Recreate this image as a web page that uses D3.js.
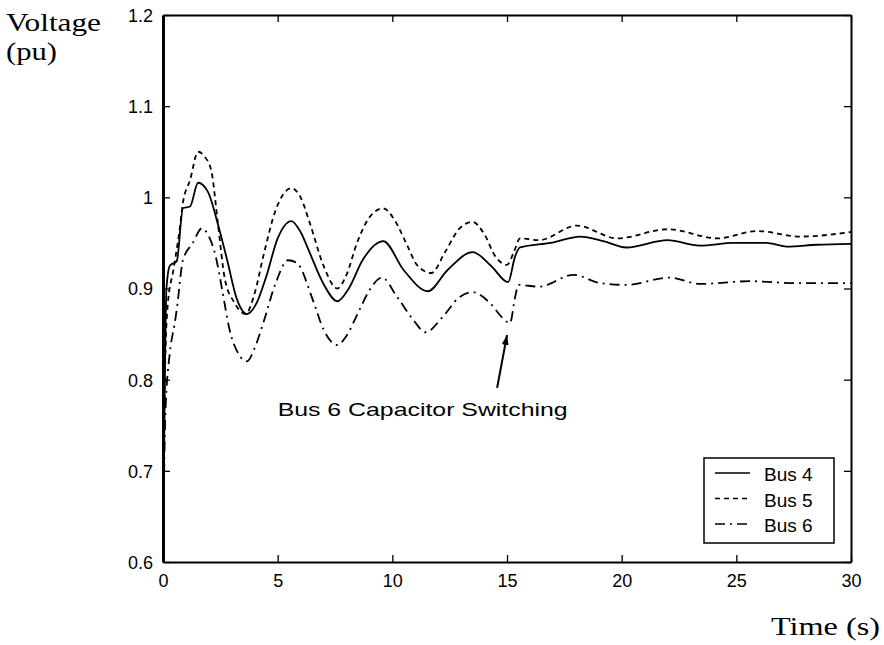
<!DOCTYPE html>
<html>
<head>
<meta charset="utf-8">
<script src="https://cdn.jsdelivr.net/npm/d3@7"></script>
<style>
  html, body { margin: 0; padding: 0; background: #fff; }
  svg { display: block; }
  .tick-label { font-family: "Liberation Sans", Arial, sans-serif; font-size: 18px; fill: #000; }
  .axis-title { font-family: "Liberation Serif", "Times New Roman", serif; font-size: 26px; fill: #000; }
</style>
</head>
<body>
<svg id="chart" width="884" height="645"></svg>
<script>
// Bus voltage response after a disturbance, [time (s), voltage (pu)]
const bus4 = [
  [0,0.6],[0.08,0.8],[0.15,0.9],[0.3,0.925],[0.6,0.93],[0.87,0.988],[1.18,0.99],[1.53,1.016],
  [1.96,1.006],[2.4,0.97],[2.8,0.931],[3.2,0.89],[3.66,0.872],[4.1,0.885],[4.5,0.913],[5.0,0.955],
  [5.6,0.974],[6.0,0.962],[6.4,0.939],[7.0,0.905],[7.6,0.886],[8.1,0.9],[8.7,0.931],[9.6,0.952],
  [10.5,0.92],[11.55,0.897],[12.4,0.92],[13.5,0.94],[14.3,0.925],[15.05,0.907],[15.35,0.935],
  [15.57,0.945],[16.9,0.95],[18.2,0.957],[19.2,0.952],[20.2,0.945],[22,0.953],[23.4,0.947],
  [24.9,0.95],[26.3,0.95],[27.2,0.946],[28.5,0.948],[30,0.949]
];
const bus5 = [
  [0,0.6],[0.08,0.8],[0.2,0.88],[0.45,0.92],[0.7,0.96],[0.87,0.994],[1.18,1.019],[1.53,1.05],
  [1.8,1.045],[2.1,1.03],[2.4,0.97],[2.7,0.91],[3.1,0.885],[3.6,0.872],[4.0,0.895],[4.37,0.935],
  [4.9,0.985],[5.6,1.01],[6.0,1.0],[6.4,0.972],[7.0,0.925],[7.6,0.9],[8.0,0.915],[8.46,0.95],
  [9.0,0.978],[9.6,0.988],[10.1,0.975],[10.6,0.95],[11.1,0.925],[11.7,0.917],[12.3,0.94],
  [12.9,0.965],[13.5,0.973],[14.0,0.96],[14.5,0.935],[15.0,0.926],[15.3,0.94],[15.57,0.955],
  [16.4,0.953],[18.05,0.969],[19.8,0.955],[22,0.965],[24.2,0.955],[25.9,0.963],[27.8,0.957],[30,0.962]
];
const bus6 = [
  [0,0.6],[0.1,0.76],[0.3,0.83],[0.5,0.86],[0.6,0.877],[0.87,0.931],[1.3,0.95],[1.7,0.966],
  [1.96,0.959],[2.3,0.935],[2.57,0.9],[2.9,0.855],[3.3,0.828],[3.66,0.82],[4.0,0.835],[4.37,0.862],
  [4.9,0.905],[5.45,0.931],[5.84,0.928],[6.54,0.887],[7.0,0.855],[7.6,0.838],[8.0,0.848],[8.5,0.873],
  [9.0,0.898],[9.55,0.912],[10.2,0.891],[10.9,0.866],[11.45,0.852],[12.2,0.869],[12.9,0.89],
  [13.5,0.896],[14.26,0.884],[14.8,0.868],[15.13,0.862],[15.35,0.89],[15.5,0.904],[16.4,0.902],
  [17.9,0.915],[19.06,0.906],[20.2,0.904],[22.1,0.912],[23.4,0.905],[25.6,0.908],[27.5,0.906],[30,0.906]
];
const seriesNames = ["Bus 4", "Bus 5", "Bus 6"];
const xTicks = [0, 5, 10, 15, 20, 25, 30];
const yTicks = [0.6, 0.7, 0.8, 0.9, 1.0, 1.1, 1.2];
const yTickLabels = ["0.6", "0.7", "0.8", "0.9", "1", "1.1", "1.2"];
const annotationText = "Bus 6 Capacitor Switching";
const annotationArrow = [[14.57, 0.791], [15.0, 0.849]];
const annotationAnchor = [5.0, 0.76];

const svg = d3.select("#chart");
const margin = { left: 163, top: 15, right: 33, bottom: 83 };
const W = 884 - margin.left - margin.right;
const H = 645 - margin.top - margin.bottom;

const x = d3.scaleLinear().domain([0, 30]).range([0, W]);
const y = d3.scaleLinear().domain([0.6, 1.2]).range([H, 0]);

const g = svg.append("g").attr("transform", `translate(${margin.left},${margin.top})`);

// data lines
const line = d3.line().x(d => x(d[0])).y(d => y(d[1])).curve(d3.curveMonotoneX);
const styles = [
  { data: bus4, dash: null },
  { data: bus5, dash: "5,4" },
  { data: bus6, dash: "10,5,2,5" }
];
styles.forEach(s => {
  g.append("path")
    .datum(s.data)
    .attr("d", line)
    .attr("fill", "none")
    .attr("stroke", "#000")
    .attr("stroke-width", 1.8)
    .attr("stroke-dasharray", s.dash);
});

// axes: ticks pointing inwards, box on all four sides
const tickLen = 7;
const xAxisB = d3.axisBottom(x).tickValues(xTicks).tickSizeInner(-tickLen).tickSizeOuter(0).tickFormat(d3.format("d"));
const xAxisT = d3.axisTop(x).tickValues(xTicks).tickSizeInner(-tickLen).tickSizeOuter(0).tickFormat("");
const yAxisL = d3.axisLeft(y).tickValues(yTicks).tickSizeInner(-tickLen).tickSizeOuter(0).tickFormat((d, i) => yTickLabels[i]);
const yAxisR = d3.axisRight(y).tickValues(yTicks).tickSizeInner(-tickLen).tickSizeOuter(0).tickFormat("");

function styleAxis(sel) {
  sel.select(".domain").attr("stroke", "#000").attr("stroke-width", 2);
  sel.selectAll(".tick line").attr("stroke", "#000").attr("stroke-width", 1.3);
  sel.selectAll(".tick text").attr("class", "tick-label").attr("fill", "#000");
}

const gxb = g.append("g").attr("transform", `translate(0,${H})`).call(xAxisB).call(styleAxis);
gxb.selectAll(".tick text").attr("y", 12).attr("dy", "0.71em");
g.append("g").call(xAxisT).call(styleAxis);
const gyl = g.append("g").call(yAxisL).call(styleAxis);
gyl.select(".domain").attr("stroke-width", 3);
gyl.selectAll(".tick text").attr("x", -10).attr("dy", "0.36em");
g.append("g").attr("transform", `translate(${W},0)`).call(yAxisR).call(styleAxis);

// annotation: arrow pointing at the switching instant
const defs = svg.append("defs");
defs.append("marker")
  .attr("id", "arrowhead")
  .attr("viewBox", "0 0 10 10")
  .attr("refX", 10).attr("refY", 5)
  .attr("markerWidth", 10).attr("markerHeight", 10)
  .attr("markerUnits", "userSpaceOnUse")
  .attr("orient", "auto")
  .append("path").attr("d", "M0,1.5 L10,5 L0,8.5 Z").attr("fill", "#000");

g.append("line")
  .attr("x1", x(annotationArrow[0][0])).attr("y1", y(annotationArrow[0][1]))
  .attr("x2", x(annotationArrow[1][0])).attr("y2", y(annotationArrow[1][1]))
  .attr("stroke", "#000").attr("stroke-width", 2)
  .attr("marker-end", "url(#arrowhead)");

g.append("text")
  .attr("class", "tick-label")
  .attr("x", x(annotationAnchor[0])).attr("y", y(annotationAnchor[1]))
  .style("font-size", "19px")
  .attr("textLength", 290).attr("lengthAdjust", "spacingAndGlyphs")
  .text(annotationText);

// legend
const legend = svg.append("g").attr("transform", "translate(704,458)");
legend.append("rect")
  .attr("width", 130).attr("height", 85)
  .attr("fill", "#fff").attr("stroke", "#000").attr("stroke-width", 1.5);
styles.forEach((s, i) => {
  const ly = 15 + i * 25.5;
  legend.append("line")
    .attr("x1", 11).attr("x2", 46).attr("y1", ly).attr("y2", ly)
    .attr("stroke", "#000").attr("stroke-width", 1.5)
    .attr("stroke-dasharray", s.dash);
  legend.append("text")
    .attr("class", "tick-label")
    .style("font-size", "19px")
    .attr("x", 60).attr("y", ly + 8)
    .text(seriesNames[i]);
});

// axis titles
svg.append("text").attr("class", "axis-title").attr("x", 6).attr("y", 31)
  .attr("textLength", 95).attr("lengthAdjust", "spacingAndGlyphs").text("Voltage");
svg.append("text").attr("class", "axis-title").attr("x", 6).attr("y", 60)
  .attr("textLength", 51).attr("lengthAdjust", "spacingAndGlyphs").text("(pu)");
svg.append("text").attr("class", "axis-title").attr("x", 771).attr("y", 635)
  .attr("textLength", 109).attr("lengthAdjust", "spacingAndGlyphs").text("Time (s)");
</script>
</body>
</html>
